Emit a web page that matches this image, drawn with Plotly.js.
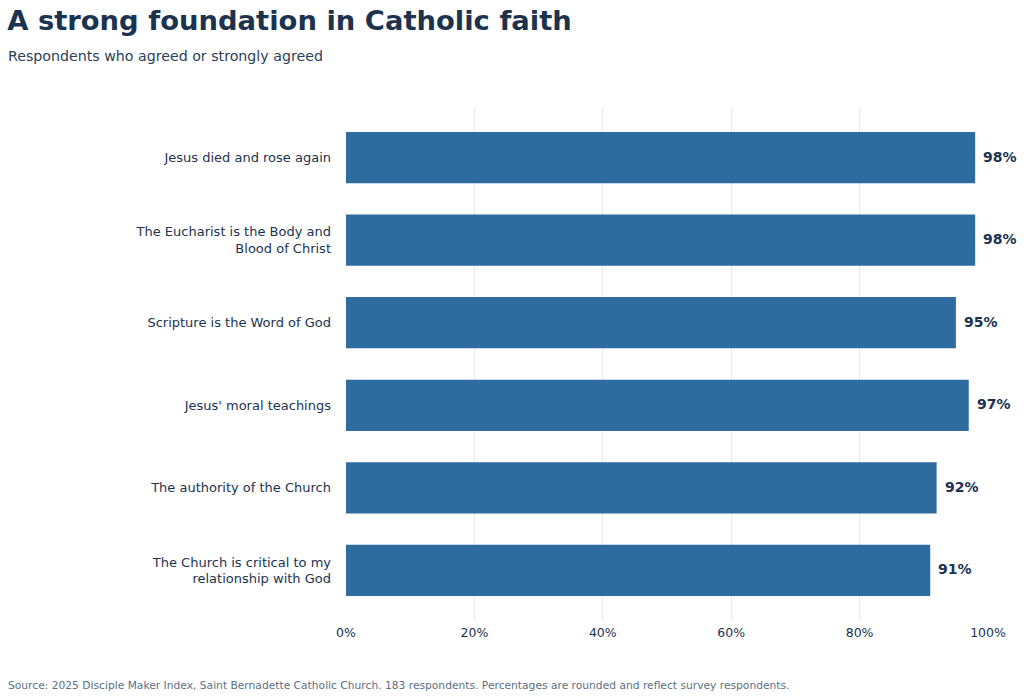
<!DOCTYPE html>
<html>
<head>
<meta charset="utf-8">
<script src="https://cdn.plot.ly/plotly-3.0.1.min.js"></script>
<style>
  html, body { margin: 0; padding: 0; background: #fff; }
  #chart { width: 1024px; height: 698px; }
</style>
</head>
<body>
<div id="chart"></div>
<script>
// data (top to bottom)
const statements = [
  'Jesus died and rose again',
  'The Eucharist is the Body and<br>Blood of Christ',
  'Scripture is the Word of God',
  "Jesus' moral teachings",
  'The authority of the Church',
  'The Church is critical to my<br>relationship with God'
];
const agreePct = [98, 98, 95, 97, 92, 91];
const xTickVals = [0, 20, 40, 60, 80, 100];
const xTickText = ['0%', '20%', '40%', '60%', '80%', '100%'];

const navy = '#1c3350';
const barBlue = '#2e6b9f';
const font = 'DejaVu Sans, sans-serif';

const trace = {
  type: 'bar',
  orientation: 'h',
  x: agreePct,
  y: statements,
  marker: { color: barBlue },
  hoverinfo: 'skip'
};

// value labels just past the bar ends
const valueLabels = agreePct.map((v, i) => ({
  x: v, y: statements[i], xref: 'x', yref: 'y',
  text: '<b>' + v + '%</b>',
  showarrow: false, xanchor: 'left', xshift: 6, yshift: 1,
  font: { family: font, size: 14, color: navy }
}));

const layout = {
  width: 1024,
  height: 698,
  margin: { l: 346, r: 36, t: 108, b: 78 },
  paper_bgcolor: '#fff',
  plot_bgcolor: '#fff',
  bargap: 0.38,
  showlegend: false,
  title: {
    text: '<b>A strong foundation in Catholic faith</b>',
    font: { family: font, size: 27.4, color: navy },
    xref: 'container', yref: 'container',
    x: 0.007, xanchor: 'left',
    y: 1 - 20 / 698, yanchor: 'middle'
  },
  xaxis: {
    range: [0, 100],
    tickvals: xTickVals,
    ticktext: xTickText,
    showgrid: true,
    gridcolor: '#e6e9ee',
    gridwidth: 1,
    zeroline: false,
    showline: false,
    ticks: '',
    ticklabelstandoff: 3,
    tickfont: { family: font, size: 12.5, color: navy },
    fixedrange: true
  },
  yaxis: {
    autorange: false,
    range: [5.6, -0.6],
    type: 'category',
    showgrid: false,
    zeroline: false,
    showline: false,
    ticks: '',
    ticklabelstandoff: 14,
    tickfont: { family: font, size: 13, color: navy },
    fixedrange: true
  },
  annotations: valueLabels.concat([
    {
      text: 'Respondents who agreed or strongly agreed',
      xref: 'paper', yref: 'paper',
      x: -346 / 642, xanchor: 'left', xshift: 6,
      y: 1 + (108 - 56) / 512, yanchor: 'middle',
      showarrow: false,
      font: { family: font, size: 14.2, color: '#2b3f57' }
    },
    {
      text: 'Source: 2025 Disciple Maker Index, Saint Bernadette Catholic Church. 183 respondents. Percentages are rounded and reflect survey respondents.',
      xref: 'paper', yref: 'paper',
      x: -346 / 642, xanchor: 'left', xshift: 6,
      y: -(685 - 620) / 512, yanchor: 'middle',
      showarrow: false,
      font: { family: font, size: 10.7, color: '#5c6f84' }
    }
  ])
};

Plotly.newPlot('chart', [trace], layout, { displayModeBar: false, staticPlot: true });
</script>
</body>
</html>
